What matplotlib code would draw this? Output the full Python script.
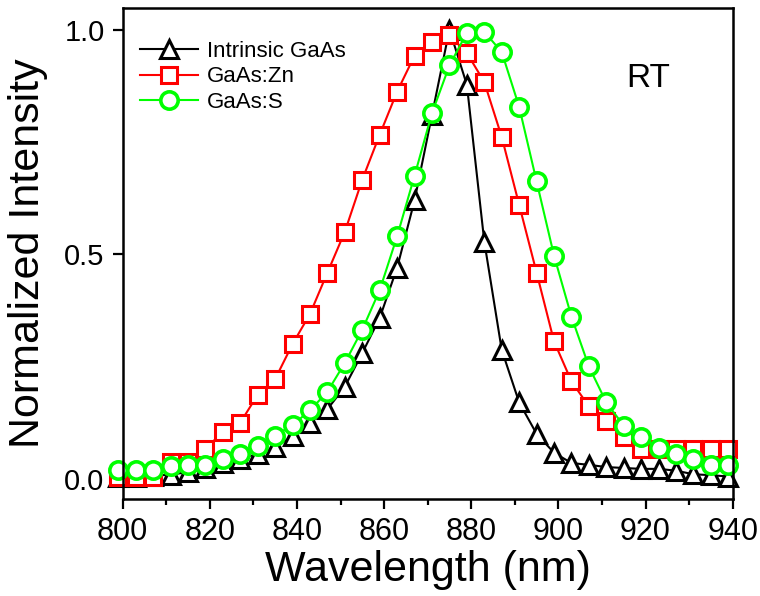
import matplotlib
matplotlib.use("Agg")
import matplotlib.pyplot as plt
from matplotlib.ticker import MultipleLocator

plt.rcParams['font.family'] = ['Liberation Sans', 'DejaVu Sans']

# wavelength of the plotted markers (nm)
wl = [799 + 4 * i for i in range(36)]

intrinsic = [0.005, 0.005, 0.007, 0.009, 0.015, 0.024, 0.035, 0.045, 0.055, 0.07,
             0.095, 0.125, 0.155, 0.205, 0.28, 0.358, 0.47, 0.62, 0.81, 1.0,
             0.877, 0.528, 0.287, 0.17, 0.1, 0.058, 0.035, 0.031, 0.026, 0.024,
             0.022, 0.022, 0.018, 0.01, 0.008, 0.005]

zn = [0.005, 0.005, 0.005, 0.037, 0.037, 0.066, 0.105, 0.125, 0.187, 0.222,
      0.30, 0.367, 0.459, 0.55, 0.666, 0.766, 0.862, 0.942, 0.972, 0.987,
      0.948, 0.883, 0.761, 0.61, 0.459, 0.306, 0.217, 0.161, 0.128, 0.094,
      0.066, 0.066, 0.066, 0.066, 0.066, 0.066]

s_doped = [0.02, 0.02, 0.02, 0.029, 0.031, 0.031, 0.044, 0.056, 0.072, 0.096,
           0.12, 0.152, 0.194, 0.258, 0.332, 0.42, 0.54, 0.675, 0.814, 0.92,
           0.993, 0.995, 0.95, 0.828, 0.662, 0.497, 0.361, 0.25, 0.17, 0.118,
           0.094, 0.068, 0.056, 0.045, 0.03, 0.031]

fig = plt.figure(figsize=(7.6, 5.96), dpi=100)
ax = fig.add_axes([0.1614, 0.1628, 0.8026, 0.8238])

ax.plot(wl, intrinsic, color='black', lw=1.5, marker='^', ms=12.5, mew=2.2,
        mfc='white', mec='black', label='Intrinsic GaAs', clip_on=False)
ax.plot(wl, zn, color='red', lw=1.5, marker='s', ms=11, mew=2.2,
        mfc='white', mec='red', label='GaAs:Zn', clip_on=False)
ax.plot(wl, s_doped, color='#00ff00', lw=1.5, marker='o', ms=12.5, mew=2.6,
        mfc='white', mec='#00ff00', label='GaAs:S', clip_on=False)

ax.set_xlim(800, 940)
ax.set_ylim(-0.045, 1.048)
ax.xaxis.set_major_locator(MultipleLocator(20))
ax.xaxis.set_minor_locator(MultipleLocator(10))
ax.yaxis.set_major_locator(MultipleLocator(0.5))
ax.tick_params(which='major', direction='out', length=7, width=1.6)
ax.tick_params(which='minor', direction='out', length=4, width=1.6)
ax.tick_params(axis='x', which='major', labelsize=22, pad=6)
ax.tick_params(axis='y', which='major', labelsize=21, pad=6)
ax.tick_params(top=False, right=False, which='both')
for sp in ax.spines.values():
    sp.set_linewidth(1.8)

ax.set_xlabel('Wavelength (nm)', fontsize=31, labelpad=2)
ax.set_ylabel('Normalized Intensity', fontsize=31, labelpad=12)

ax.legend(loc='upper left', frameon=False, fontsize=16, handlelength=2.6,
          bbox_to_anchor=(-0.008, 0.978), borderaxespad=0.6, labelspacing=0.2,
          handletextpad=0.4)
ax.text(0.861, 0.857, 'RT', transform=ax.transAxes, fontsize=24,
        ha='center', va='center')

fig.savefig('out.png', dpi=100)
